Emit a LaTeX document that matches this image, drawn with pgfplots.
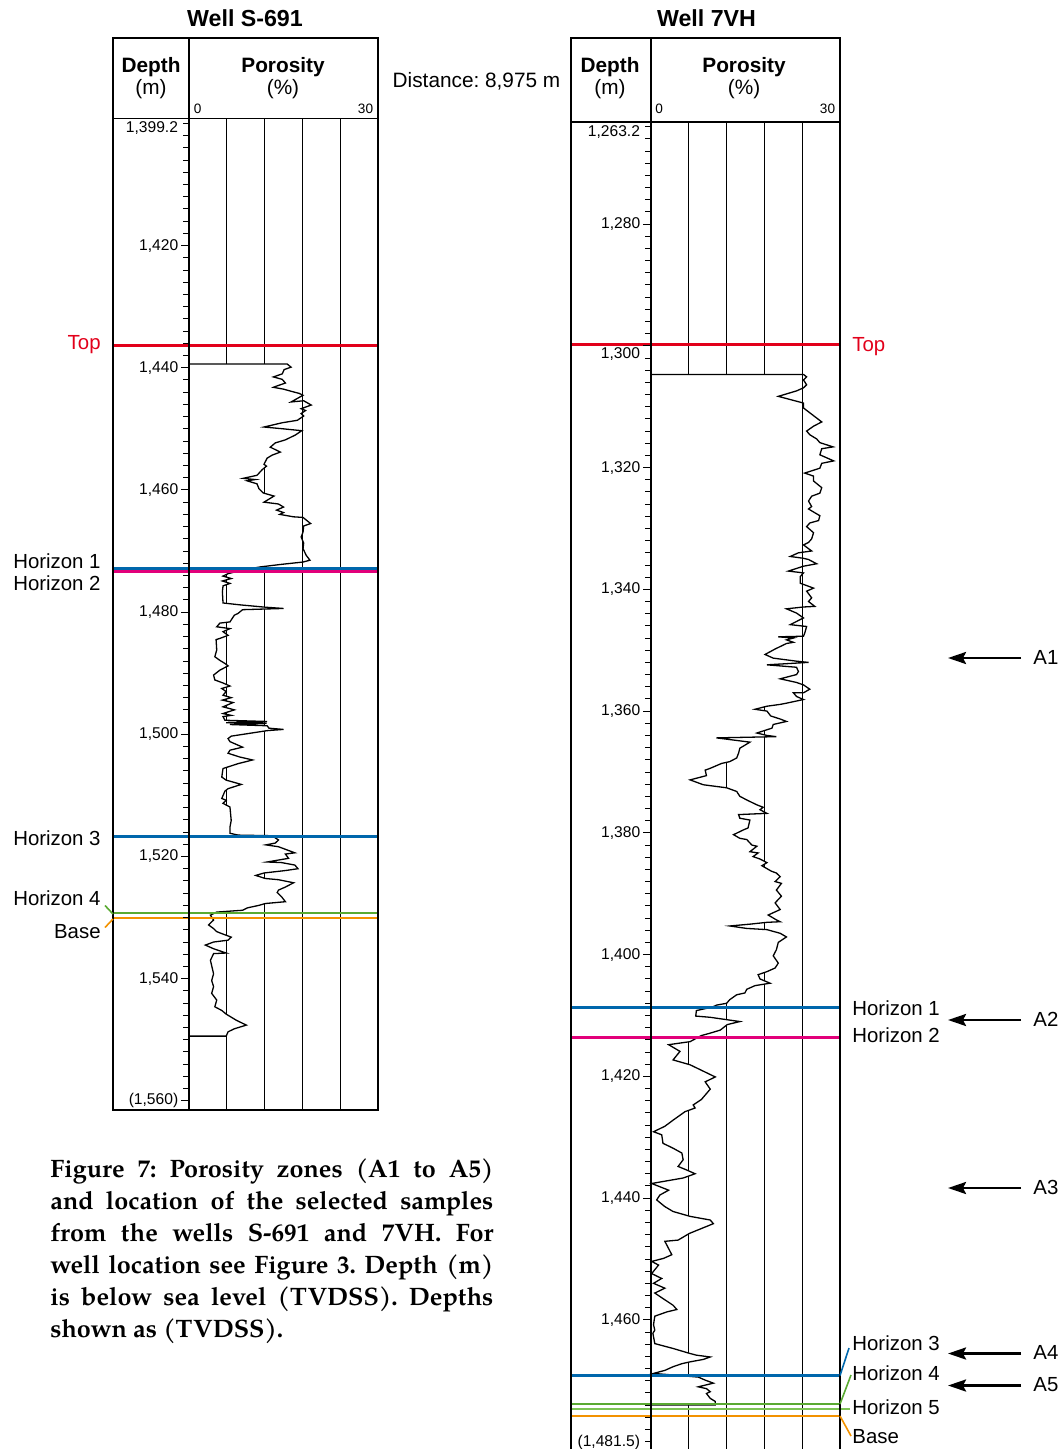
\documentclass[border=0pt]{standalone}
\usepackage{pgfplots}
\pgfplotsset{compat=1.18}
\usetikzlibrary{arrows.meta}
\usepackage{fontspec}
\setmainfont{Liberation Sans}
\newfontfamily\capfont{texgyrepagella-bold.otf}
\definecolor{topred}{RGB}{226,0,26}
\definecolor{hblue}{RGB}{0,103,172}
\definecolor{hmag}{RGB}{226,0,122}
\definecolor{hgreen}{RGB}{90,170,50}
\definecolor{hgreenb}{RGB}{125,195,85}
\definecolor{horange}{RGB}{243,146,0}
\pgfplotsset{welllog/.style={
  scale only axis, width=94.5pt,
  xmin=0, xmax=30, y dir=reverse, clip=false, axis on top,
  xtick=\empty, ytick pos=left, tick align=outside,
  major tick length=4pt, minor tick length=3pt,
  tick style={black, line width=0.5pt},
  yticklabel style={font=\fontsize{7.8}{9}\selectfont, inner sep=1.2pt},
  axis line style={line width=0.8pt},
  /pgf/number format/assume math mode=true,
}}
\newcommand{\tlf}{\fontsize{7.8}{9}\selectfont}
\newcommand{\hzf}{\fontsize{10.2}{12}\selectfont}
\newcommand{\hdf}{\fontsize{10.4}{12}\selectfont}
\frenchspacing
\begin{document}
\begin{tikzpicture}[x=0.5pt,y=-0.5pt]
\path[use as bounding box] (0,0) rectangle (1064,1449);

% ---------------- Well S-691 ----------------
\begin{axis}[welllog, at={(94.5pt,-555pt)}, anchor=south west,
  height=495.75pt, ymin=1399.2, ymax=1561.5,
  ytick={1420,1440,...,1560},
  yticklabels={1{,}420,1{,}440,1{,}460,1{,}480,1{,}500,1{,}520,1{,}540,(1{,}560)},
  minor ytick={1400,1402,...,1560}]
\addplot[black, line width=0.5pt] coordinates {(6,1399.2) (6,1561.5)};
\addplot[black, line width=0.5pt] coordinates {(12,1399.2) (12,1561.5)};
\addplot[black, line width=0.5pt] coordinates {(24,1399.2) (24,1561.5)};
\addplot[black, line width=0.65pt, fill=white] coordinates {
(0,1439.4) (15.6,1439.4) (16.2,1439.9) (15.1,1440.3) (14.8,1441.0) (13.4,1441.5) (14.8,1441.9) (15.3,1442.5) (13.9,1443.0) (13.4,1443.2) (15.0,1443.5) (16.4,1443.9) (17.5,1444.2) (18.1,1444.5) (16.2,1445.6) (18.2,1445.4) (19.4,1446.1) (17.8,1446.7) (18.5,1447.0) (17.8,1447.5) (18.2,1447.9) (17.2,1448.6) (14.8,1449.0) (11.9,1449.7) (15.0,1450.0) (17.9,1450.3) (16.9,1451.0) (15.3,1451.8) (13.7,1452.3) (12.9,1453.0) (14.5,1453.8) (13.2,1454.3) (12.4,1454.8) (11.9,1455.8) (12.3,1456.1) (11.6,1456.7) (10.8,1457.6) (8.6,1458.1) (10.5,1458.3) (9.2,1458.5) (10.8,1459.0) (11.1,1459.8) (11.8,1460.5) (13.5,1461.0) (11.9,1462.0) (14.2,1462.3) (15.0,1462.8) (13.9,1463.3) (15.0,1463.7) (14.4,1464.0) (16.6,1464.4) (18.1,1464.5) (19.3,1465.5) (18.2,1465.9) (18.1,1466.9) (17.8,1467.7) (18.2,1468.7) (18.1,1469.6) (18.6,1470.7) (19.2,1471.5) (18.1,1471.8) (14.5,1472.2) (11.3,1472.6) (9.0,1473.0)
(6.2,1473.7) (5.4,1474.1) (6.7,1474.5) (5.3,1474.9) (6.5,1475.3) (5.4,1475.7) (5.3,1476.7) (5.4,1478.5) (8.0,1478.8) (12.2,1479.2) (15.0,1479.4) (8.5,1479.6) (7.8,1480.2) (7.2,1480.5) (6.5,1481.6) (4.9,1481.8) (4.4,1482.4) (6.5,1482.7) (5.4,1483.2) (6.2,1483.8) (4.9,1484.3) (4.3,1484.5) (4.4,1486.2) (4.1,1487.3) (4.9,1487.9) (5.7,1488.4) (6.2,1488.8) (4.9,1489.5) (3.9,1490.3) (4.1,1491.1) (5.4,1491.6) (6.5,1492.1) (5.2,1492.5) (5.9,1493.0) (5.4,1493.6) (6.7,1494.0) (5.3,1494.4) (7.0,1494.8) (5.4,1495.5) (7.2,1496.0) (5.4,1496.6) (6.7,1496.9) (5.4,1497.1) (5.7,1497.7) (12.4,1497.9) (5.9,1498.1) (12.3,1498.2) (6.5,1498.4) (12.4,1498.6) (12.7,1499.0) (15.0,1499.2) (12.4,1499.4) (6.7,1500.3) (6.2,1500.7) (6.5,1501.2) (8.5,1502.1) (6.5,1502.6) (6.2,1503.1) (8.0,1503.7) (10.1,1504.2) (7.8,1504.8) (5.4,1505.6) (5.2,1507.0) (5.9,1507.5) (8.3,1508.2) (6.2,1508.9) (5.7,1509.3) (5.2,1510.5) (5.9,1510.8) (5.4,1511.3) (6.5,1511.9) (6.7,1514.1) (6.5,1515.2) (6.5,1516.2) (7.8,1516.5) (13.2,1516.6) (14.2,1517.3) (13.7,1517.8) (12.2,1518.1) (14.2,1518.4) (16.8,1519.4) (15.3,1519.6) (15.8,1520.3) (12.4,1520.9) (14.7,1521.0) (16.8,1521.4) (17.3,1522.0) (15.3,1522.3) (11.9,1522.7) (10.6,1523.1) (12.1,1523.6) (14.2,1523.8) (16.6,1524.3) (15.3,1525.0) (14.2,1525.5) (14.0,1525.9) (14.7,1526.6) (15.3,1527.4) (12.1,1527.7) (11.1,1528.0) (9.3,1528.4) (8.5,1528.8) (4.4,1529.1) (3.4,1529.6) (3.9,1530.4) (3.1,1531.2) (3.9,1531.8) (4.4,1532.3) (5.4,1532.7) (6.7,1533.2) (6.2,1533.7) (3.9,1534.0) (2.6,1534.5) (3.9,1535.1) (5.9,1535.8) (3.9,1535.9) (3.4,1537.0) (3.9,1539.2) (3.6,1540.3) (3.9,1541.3) (3.6,1542.4) (4.4,1543.5) (4.1,1544.6) (5.2,1545.2) (5.9,1545.8) (7.5,1546.8) (9.1,1547.6) (7.2,1548.2) (6.2,1548.7) (5.9,1549.4) (0,1549.4)};
\addplot[black, line width=0.5pt] coordinates {(18,1399.2) (18,1561.5)};
% horizons
\addplot[topred, line width=1.5pt] coordinates {(-12.06,1436.28) (30,1436.28)};
\addplot[hblue, line width=1.5pt] coordinates {(-12.06,1472.87) (30,1472.87)};
\addplot[hmag, line width=1.5pt] coordinates {(-12.06,1473.36) (30,1473.36)};
\addplot[hblue, line width=1.5pt] coordinates {(-12.06,1516.70) (30,1516.70)};
\addplot[hgreen, line width=1pt] coordinates {(-12.06,1529.31) (30,1529.31)};
\addplot[horange, line width=1pt] coordinates {(-12.06,1530.13) (30,1530.13)};
\node[anchor=north east, font=\tlf, inner sep=0pt, xshift=-5.3pt, yshift=-1.5pt] at (axis cs:0,1399.2) {1,399.2};
\end{axis}

% ---------------- Well 7VH ----------------
\begin{axis}[welllog, at={(325.5pt,-725.35pt)}, anchor=south west,
  height=664.45pt, ymin=1263.2, ymax=1481.5,
  ytick={1280,1300,...,1460},
  yticklabels={1{,}280,,1{,}320,1{,}340,1{,}360,1{,}380,1{,}400,1{,}420,1{,}440,1{,}460},
  minor ytick={1264,1266,...,1480}]
\addplot[black, line width=0.5pt] coordinates {(6,1263.2) (6,1481.5)};
\addplot[black, line width=0.5pt] coordinates {(12,1263.2) (12,1481.5)};
\addplot[black, line width=0.5pt] coordinates {(18,1263.2) (18,1481.5)};
\addplot[black, line width=0.65pt, fill=white] coordinates {
(0,1304.7) (24.2,1304.7) (24.7,1305.1) (24.2,1305.6) (24.7,1306.4) (24.2,1306.9) (23.1,1307.4) (20.2,1308.3) (24.2,1309.4) (24.2,1310.2) (24.7,1310.6) (27.1,1312.5) (25.8,1313.2) (24.7,1314.0) (25.2,1314.6) (26.3,1315.3) (26.8,1315.9) (28.9,1316.6) (27.1,1316.9) (26.8,1317.9) (29.0,1318.9) (27.1,1319.3) (26.8,1320.1) (24.4,1320.9) (25.8,1321.4) (25.8,1322.2) (27.1,1323.3) (26.8,1324.2) (25.5,1324.7) (25.0,1325.5) (25.5,1326.4) (25.0,1326.8) (25.8,1327.3) (26.8,1327.9) (26.6,1328.7) (25.2,1329.1) (24.7,1329.7) (25.8,1330.7) (25.5,1331.7) (25.0,1332.3) (24.2,1332.7) (25.5,1333.7) (23.4,1334.0) (22.1,1334.6) (24.2,1334.9) (25.0,1335.1) (26.3,1335.8) (24.2,1336.2) (21.8,1337.0) (24.2,1337.3) (23.7,1337.9) (23.7,1339.0) (25.8,1339.8) (24.7,1340.3) (25.5,1341.4) (25.0,1342.0) (26.0,1342.8) (24.2,1342.9) (21.5,1343.2) (23.1,1343.9) (24.2,1344.7) (22.1,1345.8) (24.7,1346.1) (24.4,1347.2) (24.2,1347.7) (20.2,1347.8) (22.6,1348.0) (21.5,1348.3) (22.6,1348.7) (21.5,1348.9) (19.7,1349.8) (18.1,1350.7) (19.4,1351.3) (23.1,1351.8) (25.0,1352.0) (18.4,1352.4) (23.1,1352.8) (23.4,1353.5) (23.1,1354.0) (20.5,1354.7) (23.1,1355.3) (24.2,1355.7) (25.2,1356.4) (24.2,1357.0) (22.6,1357.0) (23.1,1357.6) (24.2,1358.1) (21.5,1358.7) (20.5,1358.9) (18.4,1359.2) (16.5,1359.7) (18.4,1360.0) (19.0,1360.8) (20.5,1361.3) (21.5,1361.7) (19.4,1362.2) (19.2,1362.8) (16.8,1363.6) (18.4,1364.0) (19.9,1364.2) (10.4,1364.4) (15.7,1365.1) (14.1,1366.1) (13.9,1366.9) (13.6,1367.7) (12.5,1368.3) (11.2,1368.6) (9.4,1369.4) (8.6,1369.7) (8.8,1370.6) (6.2,1371.3) (8.3,1372.1) (12.0,1372.6) (13.6,1373.2) (14.1,1374.0) (15.2,1374.6) (16.8,1375.4) (17.8,1375.8) (17.3,1376.2) (18.4,1376.8) (13.9,1377.0) (14.1,1377.6) (15.7,1377.9) (15.4,1379.2) (14.7,1379.5) (13.1,1380.3) (14.1,1380.9) (15.2,1381.1) (16.0,1382.0) (16.8,1382.2) (15.7,1383.1) (17.0,1383.3) (16.2,1383.9) (17.3,1384.3) (18.4,1384.9) (17.6,1385.4) (19.1,1386.3) (19.9,1386.6) (20.5,1387.2) (19.7,1388.0) (20.7,1388.3) (19.9,1389.4) (20.7,1390.4) (19.7,1391.5) (20.5,1392.6) (18.6,1393.5) (19.9,1394.3) (20.5,1394.6) (18.4,1394.7) (15.7,1395.0) (12.5,1395.3) (15.2,1395.7) (18.4,1395.9) (20.5,1396.5) (21.5,1397.1) (20.2,1398.0) (19.9,1399.2) (19.4,1400.2) (20.2,1401.4) (19.7,1402.2) (18.4,1402.8) (17.0,1403.3) (17.3,1404.0) (18.9,1404.7) (16.5,1405.1) (15.2,1405.7) (14.9,1406.3) (13.6,1406.6) (12.5,1407.4) (12.0,1408.0) (10.4,1408.3) (9.8,1408.6) (7.2,1409.2) (7.1,1410.1) (9.4,1410.3) (14.1,1411.0) (12.1,1411.5) (11.0,1412.4) (9.4,1412.9) (8.0,1413.3) (6.2,1414.3) (2.8,1414.8) (4.6,1415.9) (3.5,1417.3) (6.2,1418.1) (7.8,1418.9) (10.2,1420.1) (8.6,1420.9) (9.4,1422.1) (8.0,1423.8) (6.7,1424.7) (7.0,1425.2) (5.4,1425.8) (3.5,1427.2) (2.2,1428.2) (0.4,1429.1) (1.7,1429.6) (1.9,1431.0) (3.5,1431.8) (4.9,1432.6) (5.1,1433.7) (4.3,1434.8) (5.7,1435.4) (7.0,1436.0) (5.1,1436.7) (0.1,1437.6) (2.8,1438.7) (1.4,1439.5) (0.9,1440.3) (2.2,1441.4) (3.5,1442.2) (6.2,1443.0) (9.4,1443.6) (9.9,1444.2) (8.0,1445.0) (6.1,1445.8) (4.3,1446.9) (2.2,1447.1) (3.3,1449.3) (2.0,1449.9) (0.1,1450.4) (1.2,1451.0) (0.1,1452.4) (1.7,1453.2) (0.4,1454.0) (2.2,1454.8) (0.6,1455.6) (1.9,1456.5) (3.5,1457.6) (4.1,1458.3) (2.5,1458.7) (0.6,1459.4) (0.4,1460.8) (0.6,1461.7) (0.3,1462.2) (0.6,1463.9) (3.5,1464.7) (6.1,1465.5) (7.2,1465.8) (9.4,1466.1) (8.3,1466.5) (6.2,1466.9) (4.9,1467.2) (3.5,1467.7) (2.2,1468.3) (0.4,1468.8) (7.5,1469.4) (8.6,1469.9) (9.9,1470.4) (7.5,1471.0) (8.8,1471.3) (9.4,1471.8) (8.8,1472.1) (9.4,1472.9) (10.2,1473.4) (10.2,1474.0) (0,1474.0)};
\addplot[black, line width=0.5pt] coordinates {(24,1263.2) (24,1481.5)};
% horizons
\addplot[topred, line width=1.5pt] coordinates {(-12.7,1299.79) (30,1299.79)};
\addplot[hblue, line width=1.5pt] coordinates {(-12.7,1408.74) (30,1408.74)};
\addplot[hmag, line width=1.5pt] coordinates {(-12.7,1413.67) (30,1413.67)};
\addplot[hblue, line width=1.2pt] coordinates {(-12.7,1469.14) (30,1469.14)};
\addplot[hgreen, line width=1pt] coordinates {(-12.7,1473.83) (30,1473.83)};
\addplot[hgreenb, line width=1pt] coordinates {(-12.7,1474.57) (31.6,1474.57)};
\addplot[horange, line width=1pt] coordinates {(-12.7,1475.80) (30,1475.80)};
\node[anchor=north east, font=\tlf, inner sep=0pt, xshift=-5.3pt, yshift=-1.5pt] at (axis cs:0,1263.2) {1,263.2};
\node[anchor=east, font=\tlf, inner sep=0pt, xshift=-5.3pt, yshift=-4pt] at (axis cs:0,1300) {1,300};
\node[anchor=south east, font=\tlf, inner sep=0pt, xshift=-5.3pt, yshift=0.5pt] at (axis cs:0,1481.5) {(1,481.5)};
\end{axis}

% ---------------- frames and headers ----------------
\begin{scope}[line width=0.8pt]
\draw (113,118.5) -- (113,38) -- (378,38) -- (378,118.5);
\draw (189,38) -- (189,118.5);
\draw (113,118.5) -- (189,118.5);
\draw (113,118.5) -- (113,1110) -- (189,1110);
\draw (571,121.8) -- (571,38) -- (840,38) -- (840,121.8);
\draw (651,38) -- (651,121.8);
\draw (571,121.8) -- (651,121.8);
\draw (571,121.8) -- (571,1460);
\end{scope}

\node[anchor=base, font=\fontsize{11.6}{13}\selectfont\bfseries] at (245,26.7) {Well S-691};
\node[anchor=base, font=\fontsize{11.6}{13}\selectfont\bfseries] at (706.5,26.7) {Well 7VH};
\node[anchor=base, font=\hdf\bfseries] at (151,72.7) {Depth};
\node[anchor=base, font=\hdf] at (151,95) {(m)};
\node[anchor=base, font=\hdf\bfseries] at (283,72.7) {Porosity};
\node[anchor=base, font=\hdf] at (283,95) {(\%)};
\node[anchor=base, font=\hdf\bfseries] at (610,72.7) {Depth};
\node[anchor=base, font=\hdf] at (610,95) {(m)};
\node[anchor=base, font=\hdf\bfseries] at (744,72.7) {Porosity};
\node[anchor=base, font=\hdf] at (744,95) {(\%)};
\node[anchor=base west, font=\fontsize{6.8}{8}\selectfont, inner sep=0pt] at (193.5,113.3) {0};
\node[anchor=base east, font=\fontsize{6.8}{8}\selectfont, inner sep=0pt] at (373.5,113.3) {30};
\node[anchor=base west, font=\fontsize{6.8}{8}\selectfont, inner sep=0pt] at (655,113.3) {0};
\node[anchor=base east, font=\fontsize{6.8}{8}\selectfont, inner sep=0pt] at (835.5,113.3) {30};
\node[anchor=base, font=\hdf] at (476.5,87.5) {Distance: 8,975 m};

% horizon labels
\begin{scope}[font=\hzf, inner sep=0pt]
\node[anchor=base east, text=topred] at (101,350) {Top};
\node[anchor=base east] at (101,568.3) {Horizon 1};
\node[anchor=base east] at (101,590.7) {Horizon 2};
\node[anchor=base east] at (101,845) {Horizon 3};
\node[anchor=base east] at (101,905) {Horizon 4};
\node[anchor=base east] at (101,938.3) {Base};
\node[anchor=base west, text=topred] at (852,351) {Top};
\node[anchor=base west] at (852,1015) {Horizon 1};
\node[anchor=base west] at (852,1042) {Horizon 2};
\node[anchor=base west] at (852,1350) {Horizon 3};
\node[anchor=base west] at (852,1380) {Horizon 4};
\node[anchor=base west] at (852,1414.3) {Horizon 5};
\node[anchor=base west] at (852,1443.3) {Base};
\node[anchor=base west] at (1033,664) {A1};
\node[anchor=base west] at (1033,1026) {A2};
\node[anchor=base west] at (1033,1194) {A3};
\node[anchor=base west] at (1033,1359.5) {A4};
\node[anchor=base west] at (1033,1391) {A5};
\end{scope}
\draw[hgreen, line width=0.8pt] (113,914) -- (105,905.5);
\draw[horange, line width=0.8pt] (113,919) -- (105,927.5);
\draw[hblue, line width=0.8pt] (840,1375.5) -- (849,1348);
\draw[hgreen, line width=0.8pt] (840,1404) -- (851,1375);
\draw[horange, line width=0.8pt] (840,1416) -- (851,1436);

\begin{scope}[line width=1.3pt, -{Stealth[length=9pt,width=6pt,inset=1.5pt]}]
\draw (1021,658) -- (948,658);
\draw (1021,1020) -- (948,1020);
\draw (1021,1188) -- (948,1188);
\draw (1021,1353.5) -- (948,1353.5);
\draw (1021,1385.5) -- (948,1385.5);
\end{scope}

% caption
\begin{scope}[font=\capfont\fontsize{12.6}{16}\selectfont, inner sep=0pt]
\node[anchor=base west] at (50,1177) {\makebox[221.5pt][s]{Figure 7: Porosity zones (A1 to A5)}};
\node[anchor=base west] at (50,1209) {\makebox[221.5pt][s]{and location of the selected samples}};
\node[anchor=base west] at (50,1241) {\makebox[221.5pt][s]{from the wells S-691 and 7VH. For}};
\node[anchor=base west] at (50,1273) {\makebox[221.5pt][s]{well location see Figure 3. Depth (m)}};
\node[anchor=base west] at (50,1305) {\makebox[221.5pt][s]{is below sea level (TVDSS). Depths}};
\node[anchor=base west] at (50,1337) {shown as (TVDSS).};
\end{scope}
\end{tikzpicture}
\end{document}
